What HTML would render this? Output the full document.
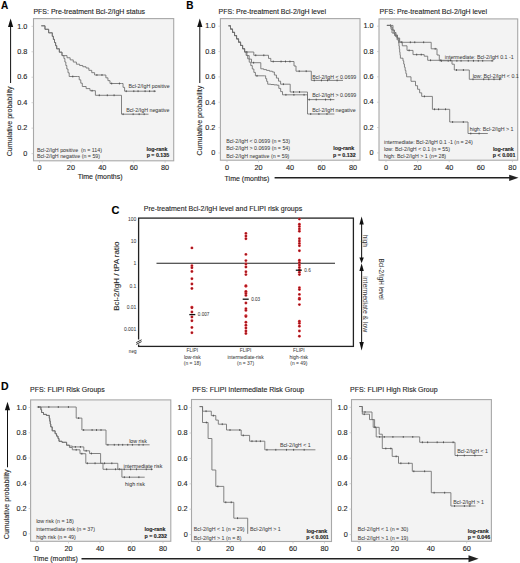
<!DOCTYPE html><html><head><meta charset="utf-8"><style>html,body{margin:0;padding:0;background:#fff;overflow:hidden;width:520px;height:563px;}svg{display:block;}text{font-family:"Liberation Sans",sans-serif;}</style></head><body>
<svg width="520" height="563" viewBox="0 0 520 563">
<rect x="0" y="0" width="520" height="563" fill="#fff"/>
<defs><radialGradient id="dg"><stop offset="0" stop-color="#7a1418"/><stop offset="0.55" stop-color="#b51c24"/><stop offset="1" stop-color="#e03a3f"/></radialGradient></defs>
<text x="1" y="8.8" font-size="10" text-anchor="start" font-weight="bold" fill="#000" stroke="#000" stroke-width="0.12">A</text>
<text x="33.4" y="13.8" font-size="7" text-anchor="start" font-weight="normal" fill="#262626" stroke="#262626" stroke-width="0.12">PFS: Pre-treatment Bcl-2/IgH status</text>
<rect x="33.5" y="18.6" width="140.2" height="142.20000000000002" fill="#f3f3f3" stroke="#a8a8a8" stroke-width="1.1"/>
<text x="27.3" y="28.55" font-size="7.3" text-anchor="end" font-weight="normal" fill="#262626" stroke="#262626" stroke-width="0.12">1.0</text>
<line x1="31.5" y1="26.30" x2="33.5" y2="26.30" stroke="#bbb" stroke-width="0.6"/>
<text x="27.3" y="54.01" font-size="7.3" text-anchor="end" font-weight="normal" fill="#262626" stroke="#262626" stroke-width="0.12">0.8</text>
<line x1="31.5" y1="51.76" x2="33.5" y2="51.76" stroke="#bbb" stroke-width="0.6"/>
<text x="27.3" y="79.47" font-size="7.3" text-anchor="end" font-weight="normal" fill="#262626" stroke="#262626" stroke-width="0.12">0.6</text>
<line x1="31.5" y1="77.22" x2="33.5" y2="77.22" stroke="#bbb" stroke-width="0.6"/>
<text x="27.3" y="104.93" font-size="7.3" text-anchor="end" font-weight="normal" fill="#262626" stroke="#262626" stroke-width="0.12">0.4</text>
<line x1="31.5" y1="102.68" x2="33.5" y2="102.68" stroke="#bbb" stroke-width="0.6"/>
<text x="27.3" y="130.39" font-size="7.3" text-anchor="end" font-weight="normal" fill="#262626" stroke="#262626" stroke-width="0.12">0.2</text>
<line x1="31.5" y1="128.14" x2="33.5" y2="128.14" stroke="#bbb" stroke-width="0.6"/>
<text x="27.3" y="155.85" font-size="7.3" text-anchor="end" font-weight="normal" fill="#262626" stroke="#262626" stroke-width="0.12">0</text>
<line x1="31.5" y1="153.60" x2="33.5" y2="153.60" stroke="#bbb" stroke-width="0.6"/>
<text x="39.5" y="169.89999999999998" font-size="7.3" text-anchor="middle" font-weight="normal" fill="#262626" stroke="#262626" stroke-width="0.12">0</text>
<line x1="39.50" y1="160.8" x2="39.50" y2="162.8" stroke="#bbb" stroke-width="0.6"/>
<text x="70.9" y="169.89999999999998" font-size="7.3" text-anchor="middle" font-weight="normal" fill="#262626" stroke="#262626" stroke-width="0.12">20</text>
<line x1="70.90" y1="160.8" x2="70.90" y2="162.8" stroke="#bbb" stroke-width="0.6"/>
<text x="102.3" y="169.89999999999998" font-size="7.3" text-anchor="middle" font-weight="normal" fill="#262626" stroke="#262626" stroke-width="0.12">40</text>
<line x1="102.30" y1="160.8" x2="102.30" y2="162.8" stroke="#bbb" stroke-width="0.6"/>
<text x="133.7" y="169.89999999999998" font-size="7.3" text-anchor="middle" font-weight="normal" fill="#262626" stroke="#262626" stroke-width="0.12">60</text>
<line x1="133.70" y1="160.8" x2="133.70" y2="162.8" stroke="#bbb" stroke-width="0.6"/>
<text x="165.1" y="169.89999999999998" font-size="7.3" text-anchor="middle" font-weight="normal" fill="#262626" stroke="#262626" stroke-width="0.12">80</text>
<line x1="165.10" y1="160.8" x2="165.10" y2="162.8" stroke="#bbb" stroke-width="0.6"/>
<line x1="10.6" y1="83" x2="10.6" y2="26.0" stroke="#111" stroke-width="1.0"/>
<polygon points="8.0,27.0 13.2,27.0 10.6,18.5" fill="#111"/>
<text x="12.4" y="156.3" font-size="7.1" text-anchor="start" font-weight="normal" fill="#262626" stroke="#262626" stroke-width="0.12" transform="rotate(-90 12.4 156.3)">Cumulative probability</text>
<text x="77.7" y="179.3" font-size="7" text-anchor="start" font-weight="normal" fill="#262626" stroke="#262626" stroke-width="0.12">Time (months)</text>
<text x="36.9" y="151.5" font-size="5.3" text-anchor="start" font-weight="normal" fill="#3e3e3e" stroke="#3e3e3e" stroke-width="0.04">Bcl-2/IgH positive &#160;(n = 114)</text>
<text x="36.9" y="157.7" font-size="5.3" text-anchor="start" font-weight="normal" fill="#3e3e3e" stroke="#3e3e3e" stroke-width="0.04">Bcl-2/IgH negative (n = 59)</text>
<text x="167.5" y="150.9" font-size="5.3" text-anchor="end" font-weight="bold" fill="#222" stroke="#222" stroke-width="0.12">log-rank</text>
<text x="169.2" y="157.3" font-size="5.3" text-anchor="end" font-weight="bold" fill="#222" stroke="#222" stroke-width="0.12">p = 0.135</text>
<text x="128.5" y="88.4" font-size="5.3" text-anchor="start" font-weight="normal" fill="#3e3e3e" stroke="#3e3e3e" stroke-width="0.04">Bcl-2/IgH positive</text>
<text x="126.2" y="111.5" font-size="5.3" text-anchor="start" font-weight="normal" fill="#3e3e3e" stroke="#3e3e3e" stroke-width="0.04">Bcl-2/IgH negative</text>
<path d="M41.30,25.80 L44.97,25.80 L44.97,29.30 L48.63,29.30 L48.63,32.80 L52.30,32.80 L52.30,36.30 L53.40,36.30 L53.40,39.42 L54.50,39.42 L54.50,42.55 L55.60,42.55 L55.60,45.67 L56.70,45.67 L56.70,48.80 L59.35,48.80 L59.35,52.20 L62.00,52.20 L62.00,55.60 L63.90,55.60 L67.03,55.60 L67.03,57.75 L70.15,57.75 L70.15,59.90 L73.28,59.90 L73.28,62.05 L76.40,62.05 L76.40,64.20 L79.60,64.20 L79.60,65.47 L82.80,65.47 L82.80,66.73 L86.00,66.73 L86.00,68.00 L88.87,68.00 L88.87,70.33 L91.73,70.33 L91.73,72.67 L94.60,72.67 L94.60,75.00 L103.80,75.00 L105.87,75.00 L105.87,77.83 L107.93,77.83 L107.93,80.67 L110.00,80.67 L110.00,83.50 L121.50,83.50 L123.05,83.50 L123.05,87.35 L124.60,87.35 L124.60,91.20 L156.00,91.20" fill="none" stroke="#6e6e6e" stroke-width="0.85"/>
<path d="M96.91,74.10 v1.8 M101.97,74.10 v1.8 M111.68,82.60 v1.8 M119.43,82.60 v1.8 M126.24,90.30 v1.8 M133.80,90.30 v1.8 M138.06,90.30 v1.8 M145.10,90.30 v1.8 M149.58,90.30 v1.8 M154.22,90.30 v1.8" stroke="#484848" stroke-width="0.9" fill="none"/>
<path d="M41.30,25.80 L44.97,25.80 L44.97,29.30 L48.63,29.30 L48.63,32.80 L52.30,32.80 L52.30,36.30 L53.40,36.30 L53.40,39.42 L54.50,39.42 L54.50,42.55 L55.60,42.55 L55.60,45.67 L56.70,45.67 L56.70,48.80 L59.35,48.80 L59.35,52.20 L62.00,52.20 L62.00,55.60 L63.90,55.60 L63.90,58.50 L64.87,58.50 L64.87,62.00 L65.83,62.00 L65.83,65.50 L66.80,65.50 L66.80,69.00 L68.00,69.00 L68.00,72.75 L69.20,72.75 L69.20,76.50 L77.70,76.50 L79.23,76.50 L79.23,79.83 L80.77,79.83 L80.77,83.17 L82.30,83.17 L82.30,86.50 L86.15,86.50 L86.15,88.60 L90.00,88.60 L90.00,90.70 L95.40,90.70 L95.40,95.30 L121.50,95.30 L121.50,114.20 L148.50,114.20" fill="none" stroke="#6e6e6e" stroke-width="0.85"/>
<path d="M72.77,75.60 v1.8 M92.06,89.80 v1.8 M99.27,94.40 v1.8 M107.31,94.40 v1.8 M114.09,94.40 v1.8 M123.12,113.30 v1.8 M133.13,113.30 v1.8 M139.15,113.30 v1.8 M144.16,113.30 v1.8" stroke="#484848" stroke-width="0.9" fill="none"/>
<text x="186.2" y="8.8" font-size="10" text-anchor="start" font-weight="bold" fill="#000" stroke="#000" stroke-width="0.12">B</text>
<text x="218.6" y="13.8" font-size="7" text-anchor="start" font-weight="normal" fill="#262626" stroke="#262626" stroke-width="0.12">PFS: Pre-treatment Bcl-2/IgH level</text>
<rect x="220.4" y="18.6" width="139.6" height="141.6" fill="#f3f3f3" stroke="#a8a8a8" stroke-width="1.1"/>
<text x="215.4" y="28.45" font-size="7.3" text-anchor="end" font-weight="normal" fill="#262626" stroke="#262626" stroke-width="0.12">1.0</text>
<line x1="218.4" y1="26.20" x2="220.4" y2="26.20" stroke="#bbb" stroke-width="0.6"/>
<text x="215.4" y="53.81" font-size="7.3" text-anchor="end" font-weight="normal" fill="#262626" stroke="#262626" stroke-width="0.12">0.8</text>
<line x1="218.4" y1="51.56" x2="220.4" y2="51.56" stroke="#bbb" stroke-width="0.6"/>
<text x="215.4" y="79.17" font-size="7.3" text-anchor="end" font-weight="normal" fill="#262626" stroke="#262626" stroke-width="0.12">0.6</text>
<line x1="218.4" y1="76.92" x2="220.4" y2="76.92" stroke="#bbb" stroke-width="0.6"/>
<text x="215.4" y="104.53" font-size="7.3" text-anchor="end" font-weight="normal" fill="#262626" stroke="#262626" stroke-width="0.12">0.4</text>
<line x1="218.4" y1="102.28" x2="220.4" y2="102.28" stroke="#bbb" stroke-width="0.6"/>
<text x="215.4" y="129.89" font-size="7.3" text-anchor="end" font-weight="normal" fill="#262626" stroke="#262626" stroke-width="0.12">0.2</text>
<line x1="218.4" y1="127.64" x2="220.4" y2="127.64" stroke="#bbb" stroke-width="0.6"/>
<text x="215.4" y="155.25" font-size="7.3" text-anchor="end" font-weight="normal" fill="#262626" stroke="#262626" stroke-width="0.12">0</text>
<line x1="218.4" y1="153.00" x2="220.4" y2="153.00" stroke="#bbb" stroke-width="0.6"/>
<text x="227.0" y="169.89999999999998" font-size="7.3" text-anchor="middle" font-weight="normal" fill="#262626" stroke="#262626" stroke-width="0.12">0</text>
<line x1="227.00" y1="160.2" x2="227.00" y2="162.2" stroke="#bbb" stroke-width="0.6"/>
<text x="258.5" y="169.89999999999998" font-size="7.3" text-anchor="middle" font-weight="normal" fill="#262626" stroke="#262626" stroke-width="0.12">20</text>
<line x1="258.50" y1="160.2" x2="258.50" y2="162.2" stroke="#bbb" stroke-width="0.6"/>
<text x="290.0" y="169.89999999999998" font-size="7.3" text-anchor="middle" font-weight="normal" fill="#262626" stroke="#262626" stroke-width="0.12">40</text>
<line x1="290.00" y1="160.2" x2="290.00" y2="162.2" stroke="#bbb" stroke-width="0.6"/>
<text x="321.5" y="169.89999999999998" font-size="7.3" text-anchor="middle" font-weight="normal" fill="#262626" stroke="#262626" stroke-width="0.12">60</text>
<line x1="321.50" y1="160.2" x2="321.50" y2="162.2" stroke="#bbb" stroke-width="0.6"/>
<text x="353.0" y="169.89999999999998" font-size="7.3" text-anchor="middle" font-weight="normal" fill="#262626" stroke="#262626" stroke-width="0.12">80</text>
<line x1="353.00" y1="160.2" x2="353.00" y2="162.2" stroke="#bbb" stroke-width="0.6"/>
<line x1="199.8" y1="83" x2="199.8" y2="26.0" stroke="#111" stroke-width="1.0"/>
<polygon points="197.20000000000002,27.0 202.4,27.0 199.8,18.5" fill="#111"/>
<text x="201.6" y="155.4" font-size="7.1" text-anchor="start" font-weight="normal" fill="#262626" stroke="#262626" stroke-width="0.12" transform="rotate(-90 201.6 155.4)">Cumulative probability</text>
<text x="224.6" y="180.5" font-size="7" text-anchor="start" font-weight="normal" fill="#262626" stroke="#262626" stroke-width="0.12">Time (months)</text>
<line x1="274.6" y1="177.8" x2="510.2" y2="177.8" stroke="#222" stroke-width="1.4"/>
<polygon points="509.2,174.70000000000002 509.2,180.9 518.5,177.8" fill="#222"/>
<text x="226.2" y="143.4" font-size="5.3" text-anchor="start" font-weight="normal" fill="#3e3e3e" stroke="#3e3e3e" stroke-width="0.04">Bcl-2/IgH &lt; 0.0699 (n = 53)</text>
<text x="226.2" y="150.4" font-size="5.3" text-anchor="start" font-weight="normal" fill="#3e3e3e" stroke="#3e3e3e" stroke-width="0.04">Bcl-2/IgH &gt; 0.0699 (n = 54)</text>
<text x="226.2" y="157.7" font-size="5.3" text-anchor="start" font-weight="normal" fill="#3e3e3e" stroke="#3e3e3e" stroke-width="0.04">Bcl-2/IgH negative (n = 59)</text>
<text x="354.2" y="150.4" font-size="5.3" text-anchor="end" font-weight="bold" fill="#222" stroke="#222" stroke-width="0.12">log-rank</text>
<text x="355.6" y="157.4" font-size="5.3" text-anchor="end" font-weight="bold" fill="#222" stroke="#222" stroke-width="0.12">p = 0.132</text>
<text x="312.3" y="79.0" font-size="5.3" text-anchor="start" font-weight="normal" fill="#3e3e3e" stroke="#3e3e3e" stroke-width="0.04">Bcl-2/IgH &lt; 0.0699</text>
<text x="312.3" y="97.3" font-size="5.3" text-anchor="start" font-weight="normal" fill="#3e3e3e" stroke="#3e3e3e" stroke-width="0.04">Bcl-2/IgH &gt; 0.0699</text>
<text x="312.3" y="111.5" font-size="5.3" text-anchor="start" font-weight="normal" fill="#3e3e3e" stroke="#3e3e3e" stroke-width="0.04">Bcl-2/IgH negative</text>
<path d="M228.50,25.80 L230.51,25.80 L230.51,29.07 L232.53,29.07 L232.53,32.35 L234.54,32.35 L234.54,35.62 L236.55,35.62 L236.55,38.90 L238.56,38.90 L238.56,42.17 L240.57,42.17 L240.57,45.45 L242.59,45.45 L242.59,48.73 L244.60,48.73 L244.60,52.00 L253.80,52.00 L253.80,55.30 L266.20,55.30 L268.50,55.30 L268.50,58.40 L270.80,58.40 L270.80,61.50 L294.00,61.50 L294.00,66.00 L296.00,66.00 L296.00,71.20 L311.30,71.20 L311.30,80.40 L343.00,80.40" fill="none" stroke="#6e6e6e" stroke-width="0.85"/>
<path d="M246.87,51.10 v1.8 M255.75,54.40 v1.8 M263.82,54.40 v1.8 M273.23,60.60 v1.8 M281.07,60.60 v1.8 M285.50,60.60 v1.8 M289.92,60.60 v1.8 M299.20,70.30 v1.8 M306.19,70.30 v1.8 M314.26,79.50 v1.8 M321.44,79.50 v1.8 M327.53,79.50 v1.8 M337.10,79.50 v1.8" stroke="#484848" stroke-width="0.9" fill="none"/>
<path d="M228.50,25.80 L230.51,25.80 L230.51,29.07 L232.53,29.07 L232.53,32.35 L234.54,32.35 L234.54,35.62 L236.55,35.62 L236.55,38.90 L238.56,38.90 L238.56,42.17 L240.57,42.17 L240.57,45.45 L242.59,45.45 L242.59,48.73 L244.60,48.73 L244.60,52.00 L246.90,52.00 L246.90,55.57 L249.20,55.57 L249.20,59.13 L251.50,59.13 L251.50,62.70 L260.80,62.70 L260.80,68.80 L263.68,68.80 L263.68,69.60 L266.55,69.60 L266.55,70.40 L269.43,70.40 L269.43,71.20 L272.30,71.20 L272.30,72.00 L274.38,72.00 L274.38,75.05 L276.45,75.05 L276.45,78.10 L278.53,78.10 L278.53,81.15 L280.60,81.15 L280.60,84.20 L290.20,84.20 L290.20,92.00 L307.50,92.00 L307.50,99.60 L334.40,99.60" fill="none" stroke="#6e6e6e" stroke-width="0.85"/>
<path d="M253.61,61.80 v1.8 M283.41,83.30 v1.8 M293.52,91.10 v1.8 M299.54,91.10 v1.8 M309.30,98.70 v1.8 M316.22,98.70 v1.8 M325.52,98.70 v1.8 M330.59,98.70 v1.8" stroke="#484848" stroke-width="0.9" fill="none"/>
<path d="M228.50,25.80 L230.51,25.80 L230.51,29.07 L232.53,29.07 L232.53,32.35 L234.54,32.35 L234.54,35.62 L236.55,35.62 L236.55,38.90 L238.56,38.90 L238.56,42.17 L240.57,42.17 L240.57,45.45 L242.59,45.45 L242.59,48.73 L244.60,48.73 L244.60,52.00 L246.14,52.00 L246.14,55.40 L247.69,55.40 L247.69,58.80 L249.23,58.80 L249.23,62.20 L250.77,62.20 L250.77,65.60 L252.31,65.60 L252.31,69.00 L253.86,69.00 L253.86,72.40 L255.40,72.40 L255.40,75.80 L264.60,75.80 L265.63,75.80 L265.63,78.60 L266.67,78.60 L266.67,81.40 L267.70,81.40 L267.70,84.20 L270.80,84.20 L270.80,84.53 L273.90,84.53 L273.90,84.87 L277.00,84.87 L277.00,85.20 L278.83,85.20 L278.83,88.40 L280.67,88.40 L280.67,91.60 L282.50,91.60 L282.50,94.80 L307.50,94.80 L307.50,114.00 L334.40,114.00" fill="none" stroke="#6e6e6e" stroke-width="0.85"/>
<path d="M257.00,74.90 v1.8 M285.91,93.90 v1.8 M293.92,93.90 v1.8 M304.05,93.90 v1.8 M310.74,113.10 v1.8 M318.90,113.10 v1.8 M326.96,113.10 v1.8" stroke="#484848" stroke-width="0.9" fill="none"/>
<text x="379.6" y="13.8" font-size="7" text-anchor="start" font-weight="normal" fill="#262626" stroke="#262626" stroke-width="0.12">PFS: Pre-treatment Bcl-2/IgH level</text>
<rect x="379.0" y="18.9" width="138.70000000000005" height="141.29999999999998" fill="#f3f3f3" stroke="#a8a8a8" stroke-width="1.1"/>
<text x="373.6" y="28.45" font-size="7.3" text-anchor="end" font-weight="normal" fill="#262626" stroke="#262626" stroke-width="0.12">1.0</text>
<line x1="377.0" y1="26.20" x2="379.0" y2="26.20" stroke="#bbb" stroke-width="0.6"/>
<text x="373.6" y="53.79" font-size="7.3" text-anchor="end" font-weight="normal" fill="#262626" stroke="#262626" stroke-width="0.12">0.8</text>
<line x1="377.0" y1="51.54" x2="379.0" y2="51.54" stroke="#bbb" stroke-width="0.6"/>
<text x="373.6" y="79.13" font-size="7.3" text-anchor="end" font-weight="normal" fill="#262626" stroke="#262626" stroke-width="0.12">0.6</text>
<line x1="377.0" y1="76.88" x2="379.0" y2="76.88" stroke="#bbb" stroke-width="0.6"/>
<text x="373.6" y="104.47" font-size="7.3" text-anchor="end" font-weight="normal" fill="#262626" stroke="#262626" stroke-width="0.12">0.4</text>
<line x1="377.0" y1="102.22" x2="379.0" y2="102.22" stroke="#bbb" stroke-width="0.6"/>
<text x="373.6" y="129.81" font-size="7.3" text-anchor="end" font-weight="normal" fill="#262626" stroke="#262626" stroke-width="0.12">0.2</text>
<line x1="377.0" y1="127.56" x2="379.0" y2="127.56" stroke="#bbb" stroke-width="0.6"/>
<text x="373.6" y="155.15" font-size="7.3" text-anchor="end" font-weight="normal" fill="#262626" stroke="#262626" stroke-width="0.12">0</text>
<line x1="377.0" y1="152.90" x2="379.0" y2="152.90" stroke="#bbb" stroke-width="0.6"/>
<text x="386.0" y="169.89999999999998" font-size="7.3" text-anchor="middle" font-weight="normal" fill="#262626" stroke="#262626" stroke-width="0.12">0</text>
<line x1="386.00" y1="160.2" x2="386.00" y2="162.2" stroke="#bbb" stroke-width="0.6"/>
<text x="417.6" y="169.89999999999998" font-size="7.3" text-anchor="middle" font-weight="normal" fill="#262626" stroke="#262626" stroke-width="0.12">20</text>
<line x1="417.60" y1="160.2" x2="417.60" y2="162.2" stroke="#bbb" stroke-width="0.6"/>
<text x="449.2" y="169.89999999999998" font-size="7.3" text-anchor="middle" font-weight="normal" fill="#262626" stroke="#262626" stroke-width="0.12">40</text>
<line x1="449.20" y1="160.2" x2="449.20" y2="162.2" stroke="#bbb" stroke-width="0.6"/>
<text x="480.8" y="169.89999999999998" font-size="7.3" text-anchor="middle" font-weight="normal" fill="#262626" stroke="#262626" stroke-width="0.12">60</text>
<line x1="480.80" y1="160.2" x2="480.80" y2="162.2" stroke="#bbb" stroke-width="0.6"/>
<text x="512.4" y="169.89999999999998" font-size="7.3" text-anchor="middle" font-weight="normal" fill="#262626" stroke="#262626" stroke-width="0.12">80</text>
<line x1="512.40" y1="160.2" x2="512.40" y2="162.2" stroke="#bbb" stroke-width="0.6"/>
<text x="384.0" y="143.9" font-size="5.3" text-anchor="start" font-weight="normal" fill="#3e3e3e" stroke="#3e3e3e" stroke-width="0.04">intermediate: Bcl-2/IgH 0.1 -1 (n = 24)</text>
<text x="384.0" y="150.9" font-size="5.3" text-anchor="start" font-weight="normal" fill="#3e3e3e" stroke="#3e3e3e" stroke-width="0.04">low: Bcl-2/IgH &lt; 0.1 (n = 55)</text>
<text x="384.0" y="158.2" font-size="5.3" text-anchor="start" font-weight="normal" fill="#3e3e3e" stroke="#3e3e3e" stroke-width="0.04">high: Bcl-2/IgH &gt; 1 (n= 28)</text>
<text x="513.8" y="151.1" font-size="5.3" text-anchor="end" font-weight="bold" fill="#222" stroke="#222" stroke-width="0.12">log-rank</text>
<text x="515.4" y="157.3" font-size="5.3" text-anchor="end" font-weight="bold" fill="#222" stroke="#222" stroke-width="0.12">p &lt; 0.001</text>
<text x="444.8" y="58.5" font-size="5.3" text-anchor="start" font-weight="normal" fill="#3e3e3e" stroke="#3e3e3e" stroke-width="0.04">intermediate: Bcl-2/IgH 0.1 -1</text>
<text x="472.7" y="77.7" font-size="5.3" text-anchor="start" font-weight="normal" fill="#3e3e3e" stroke="#3e3e3e" stroke-width="0.04">low: Bcl-2/IgH &lt; 0.1</text>
<text x="469.8" y="130.9" font-size="5.3" text-anchor="start" font-weight="normal" fill="#3e3e3e" stroke="#3e3e3e" stroke-width="0.04">high: Bcl-2/IgH &gt; 1</text>
<path d="M386.90,25.40 L393.00,25.40 L393.00,30.00 L394.50,30.00 L394.50,32.50 L396.00,32.50 L396.00,35.00 L397.50,35.00 L397.50,38.65 L399.00,38.65 L399.00,42.30 L431.20,42.30 L431.20,48.80 L437.00,48.80 L437.00,55.00 L439.30,55.00 L439.30,60.80 L493.50,60.80" fill="none" stroke="#6e6e6e" stroke-width="0.85"/>
<path d="M390.50,24.50 v1.8 M401.69,41.40 v1.8 M410.33,41.40 v1.8 M414.76,41.40 v1.8 M423.67,41.40 v1.8 M435.18,47.90 v1.8 M441.51,59.90 v1.8 M448.21,59.90 v1.8 M456.89,59.90 v1.8 M461.05,59.90 v1.8 M468.28,59.90 v1.8 M473.46,59.90 v1.8 M478.28,59.90 v1.8 M482.69,59.90 v1.8 M492.07,59.90 v1.8" stroke="#484848" stroke-width="0.9" fill="none"/>
<path d="M386.90,25.40 L390.00,25.40 L391.00,25.40 L391.00,29.20 L392.00,29.20 L392.00,33.00 L394.50,33.00 L394.50,35.50 L397.00,35.50 L397.00,38.00 L399.65,38.00 L399.65,41.90 L402.30,41.90 L402.30,45.80 L407.00,45.80 L407.00,50.40 L413.00,50.40 L413.00,54.60 L424.20,54.60 L424.20,56.20 L427.70,56.20 L427.70,60.30 L452.00,60.30 L452.00,64.20 L454.30,64.20 L454.30,70.00 L469.30,70.00 L469.30,79.30 L501.60,79.30" fill="none" stroke="#6e6e6e" stroke-width="0.85"/>
<path d="M409.12,49.50 v1.8 M416.68,53.70 v1.8 M421.24,53.70 v1.8 M430.57,59.40 v1.8 M440.76,59.40 v1.8 M450.49,59.40 v1.8 M456.50,69.10 v1.8 M463.40,69.10 v1.8 M473.01,78.40 v1.8 M483.71,78.40 v1.8 M488.77,78.40 v1.8 M494.00,78.40 v1.8 M499.63,78.40 v1.8" stroke="#484848" stroke-width="0.9" fill="none"/>
<path d="M386.90,25.40 L390.70,25.40 L390.70,27.00 L392.28,27.00 L392.28,30.20 L393.86,30.20 L393.86,33.40 L395.44,33.40 L395.44,36.60 L397.02,36.60 L397.02,39.80 L398.60,39.80 L398.60,43.00 L398.96,43.00 L398.96,46.04 L399.32,46.04 L399.32,49.08 L399.68,49.08 L399.68,52.12 L400.04,52.12 L400.04,55.16 L400.40,55.16 L400.40,58.20 L403.00,58.20 L403.00,60.90 L403.72,60.90 L403.72,64.08 L404.44,64.08 L404.44,67.26 L405.16,67.26 L405.16,70.44 L405.88,70.44 L405.88,73.62 L406.60,73.62 L406.60,76.80 L411.00,76.80 L411.00,81.30 L415.50,81.30 L415.50,85.70 L417.57,85.70 L417.57,89.27 L419.63,89.27 L419.63,92.83 L421.70,92.83 L421.70,96.40 L432.40,96.40 L432.40,109.30 L449.70,109.30 L449.70,122.00 L468.00,122.00 L468.00,133.50 L487.80,133.50" fill="none" stroke="#6e6e6e" stroke-width="0.85"/>
<path d="M424.41,95.50 v1.8 M434.56,108.40 v1.8 M438.59,108.40 v1.8 M445.52,108.40 v1.8 M452.62,121.10 v1.8 M463.29,121.10 v1.8 M470.79,132.60 v1.8 M479.11,132.60 v1.8" stroke="#484848" stroke-width="0.9" fill="none"/>
<text x="111.4" y="213.9" font-size="11" text-anchor="start" font-weight="bold" fill="#000" stroke="#000" stroke-width="0.12">C</text>
<text x="143.8" y="210.9" font-size="7" text-anchor="start" font-weight="normal" fill="#262626" stroke="#262626" stroke-width="0.12">Pre-treatment Bcl-2/IgH level and FLIPI risk groups</text>
<rect x="138.6" y="218.1" width="214.8" height="128.3" fill="none" stroke="#222" stroke-width="1.3"/>
<text x="136.4" y="221.1" font-size="5.0" text-anchor="end" font-weight="normal" fill="#3e3e3e" stroke="#3e3e3e" stroke-width="0.04">100</text>
<text x="136.4" y="243.29999999999998" font-size="5.0" text-anchor="end" font-weight="normal" fill="#3e3e3e" stroke="#3e3e3e" stroke-width="0.04">10</text>
<text x="136.4" y="265.40000000000003" font-size="5.0" text-anchor="end" font-weight="normal" fill="#3e3e3e" stroke="#3e3e3e" stroke-width="0.04">1</text>
<text x="136.4" y="287.5" font-size="5.0" text-anchor="end" font-weight="normal" fill="#3e3e3e" stroke="#3e3e3e" stroke-width="0.04">0.1</text>
<text x="136.4" y="309.0" font-size="5.0" text-anchor="end" font-weight="normal" fill="#3e3e3e" stroke="#3e3e3e" stroke-width="0.04">0.01</text>
<text x="136.4" y="330.6" font-size="5.0" text-anchor="end" font-weight="normal" fill="#3e3e3e" stroke="#3e3e3e" stroke-width="0.04">0.001</text>
<text x="132.7" y="352.8" font-size="4.6" text-anchor="middle" font-weight="normal" fill="#3e3e3e" stroke="#3e3e3e" stroke-width="0.04">neg</text>
<text x="119.0" y="310.8" font-size="8" text-anchor="start" font-weight="normal" fill="#262626" stroke="#262626" stroke-width="0.12" transform="rotate(-90 119.0 310.8)">Bcl-2/IgH / tPA ratio</text>
<line x1="156.5" y1="263.3" x2="335" y2="263.3" stroke="#222" stroke-width="1.1"/>
<rect x="136" y="339.5" width="5" height="5" fill="#fff"/>
<path d="M136.2,342.6 L141.6,339.8 M136.2,344.4 L141.6,341.6" stroke="#222" stroke-width="0.9"/>
<text x="192.3" y="352.0" font-size="4.9" text-anchor="middle" font-weight="normal" fill="#3e3e3e" stroke="#3e3e3e" stroke-width="0.04">FLIPI</text>
<text x="192.3" y="358.7" font-size="4.9" text-anchor="middle" font-weight="normal" fill="#3e3e3e" stroke="#3e3e3e" stroke-width="0.04">low-risk</text>
<text x="192.3" y="365.4" font-size="4.9" text-anchor="middle" font-weight="normal" fill="#3e3e3e" stroke="#3e3e3e" stroke-width="0.04">(n = 18)</text>
<text x="245.6" y="352.0" font-size="4.9" text-anchor="middle" font-weight="normal" fill="#3e3e3e" stroke="#3e3e3e" stroke-width="0.04">FLIPI</text>
<text x="245.6" y="358.7" font-size="4.9" text-anchor="middle" font-weight="normal" fill="#3e3e3e" stroke="#3e3e3e" stroke-width="0.04">intermediate-risk</text>
<text x="245.6" y="365.4" font-size="4.9" text-anchor="middle" font-weight="normal" fill="#3e3e3e" stroke="#3e3e3e" stroke-width="0.04">(n = 37)</text>
<text x="298.8" y="352.0" font-size="4.9" text-anchor="middle" font-weight="normal" fill="#3e3e3e" stroke="#3e3e3e" stroke-width="0.04">FLIPI</text>
<text x="298.8" y="358.7" font-size="4.9" text-anchor="middle" font-weight="normal" fill="#3e3e3e" stroke="#3e3e3e" stroke-width="0.04">high-risk</text>
<text x="298.8" y="365.4" font-size="4.9" text-anchor="middle" font-weight="normal" fill="#3e3e3e" stroke="#3e3e3e" stroke-width="0.04">(n = 49)</text>
<circle cx="191.9" cy="247.9" r="1.45" fill="url(#dg)"/>
<circle cx="191.9" cy="265.8" r="1.45" fill="url(#dg)"/>
<circle cx="191.9" cy="267.7" r="1.45" fill="url(#dg)"/>
<circle cx="191.9" cy="271.5" r="1.45" fill="url(#dg)"/>
<circle cx="191.9" cy="278.7" r="1.45" fill="url(#dg)"/>
<circle cx="191.9" cy="284" r="1.45" fill="url(#dg)"/>
<circle cx="191.9" cy="288.5" r="1.45" fill="url(#dg)"/>
<circle cx="191.9" cy="307.1" r="1.45" fill="url(#dg)"/>
<circle cx="191.9" cy="307.7" r="1.45" fill="url(#dg)"/>
<circle cx="191.9" cy="312" r="1.45" fill="url(#dg)"/>
<circle cx="191.9" cy="317" r="1.45" fill="url(#dg)"/>
<circle cx="191.9" cy="320.8" r="1.45" fill="url(#dg)"/>
<circle cx="191.9" cy="327.5" r="1.45" fill="url(#dg)"/>
<circle cx="191.9" cy="332.7" r="1.45" fill="url(#dg)"/>
<circle cx="245.9" cy="233.4" r="1.45" fill="url(#dg)"/>
<circle cx="245.9" cy="236.1" r="1.45" fill="url(#dg)"/>
<circle cx="245.9" cy="238.7" r="1.45" fill="url(#dg)"/>
<circle cx="245.9" cy="254.4" r="1.45" fill="url(#dg)"/>
<circle cx="245.9" cy="260.6" r="1.45" fill="url(#dg)"/>
<circle cx="245.9" cy="264" r="1.45" fill="url(#dg)"/>
<circle cx="245.9" cy="267" r="1.45" fill="url(#dg)"/>
<circle cx="245.9" cy="271.7" r="1.45" fill="url(#dg)"/>
<circle cx="245.9" cy="274.6" r="1.45" fill="url(#dg)"/>
<circle cx="245.9" cy="286.2" r="1.45" fill="url(#dg)"/>
<circle cx="245.9" cy="292" r="1.45" fill="url(#dg)"/>
<circle cx="245.9" cy="285.8" r="1.45" fill="url(#dg)"/>
<circle cx="245.9" cy="291.5" r="1.45" fill="url(#dg)"/>
<circle cx="245.9" cy="293.5" r="1.45" fill="url(#dg)"/>
<circle cx="245.9" cy="295.4" r="1.45" fill="url(#dg)"/>
<circle cx="245.9" cy="303" r="1.45" fill="url(#dg)"/>
<circle cx="245.9" cy="308.8" r="1.45" fill="url(#dg)"/>
<circle cx="245.9" cy="310.4" r="1.45" fill="url(#dg)"/>
<circle cx="245.9" cy="315.6" r="1.45" fill="url(#dg)"/>
<circle cx="245.9" cy="316.5" r="1.45" fill="url(#dg)"/>
<circle cx="245.9" cy="322.3" r="1.45" fill="url(#dg)"/>
<circle cx="245.9" cy="325.2" r="1.45" fill="url(#dg)"/>
<circle cx="245.9" cy="328" r="1.45" fill="url(#dg)"/>
<circle cx="245.9" cy="331" r="1.45" fill="url(#dg)"/>
<circle cx="245.9" cy="333.5" r="1.45" fill="url(#dg)"/>
<circle cx="299.4" cy="219.1" r="1.45" fill="url(#dg)"/>
<circle cx="299.4" cy="224.2" r="1.45" fill="url(#dg)"/>
<circle cx="299.4" cy="226.5" r="1.45" fill="url(#dg)"/>
<circle cx="299.4" cy="228.9" r="1.45" fill="url(#dg)"/>
<circle cx="299.4" cy="231.3" r="1.45" fill="url(#dg)"/>
<circle cx="299.4" cy="238.7" r="1.45" fill="url(#dg)"/>
<circle cx="299.4" cy="241.1" r="1.45" fill="url(#dg)"/>
<circle cx="299.4" cy="243.4" r="1.45" fill="url(#dg)"/>
<circle cx="299.4" cy="245.8" r="1.45" fill="url(#dg)"/>
<circle cx="299.4" cy="250.7" r="1.45" fill="url(#dg)"/>
<circle cx="299.4" cy="260.2" r="1.45" fill="url(#dg)"/>
<circle cx="299.4" cy="262.5" r="1.45" fill="url(#dg)"/>
<circle cx="299.4" cy="265" r="1.45" fill="url(#dg)"/>
<circle cx="299.4" cy="267.5" r="1.45" fill="url(#dg)"/>
<circle cx="299.4" cy="270" r="1.45" fill="url(#dg)"/>
<circle cx="299.4" cy="272.3" r="1.45" fill="url(#dg)"/>
<circle cx="299.4" cy="274.6" r="1.45" fill="url(#dg)"/>
<circle cx="299.4" cy="287.7" r="1.45" fill="url(#dg)"/>
<circle cx="299.4" cy="289.6" r="1.45" fill="url(#dg)"/>
<circle cx="299.4" cy="294.4" r="1.45" fill="url(#dg)"/>
<circle cx="299.4" cy="298.3" r="1.45" fill="url(#dg)"/>
<circle cx="299.4" cy="299.2" r="1.45" fill="url(#dg)"/>
<circle cx="299.4" cy="304.6" r="1.45" fill="url(#dg)"/>
<circle cx="299.4" cy="321.3" r="1.45" fill="url(#dg)"/>
<circle cx="299.4" cy="323.3" r="1.45" fill="url(#dg)"/>
<circle cx="299.4" cy="326.2" r="1.45" fill="url(#dg)"/>
<circle cx="299.4" cy="331" r="1.45" fill="url(#dg)"/>
<circle cx="299.4" cy="336.2" r="1.45" fill="url(#dg)"/>
<line x1="189.3" y1="314.6" x2="195.3" y2="314.6" stroke="#111" stroke-width="1.3"/>
<text x="197.8" y="316.20000000000005" font-size="4.6" text-anchor="start" font-weight="normal" fill="#3e3e3e" stroke="#3e3e3e" stroke-width="0.04">0.007</text>
<line x1="242.7" y1="299.2" x2="248.7" y2="299.2" stroke="#111" stroke-width="1.3"/>
<text x="251.2" y="300.8" font-size="4.6" text-anchor="start" font-weight="normal" fill="#3e3e3e" stroke="#3e3e3e" stroke-width="0.04">0.03</text>
<line x1="295.8" y1="270.2" x2="301.8" y2="270.2" stroke="#111" stroke-width="1.3"/>
<text x="304.3" y="271.8" font-size="4.6" text-anchor="start" font-weight="normal" fill="#3e3e3e" stroke="#3e3e3e" stroke-width="0.04">0.6</text>
<line x1="361.6" y1="222" x2="361.6" y2="260" stroke="#222" stroke-width="1.1"/>
<line x1="361.6" y1="266" x2="361.6" y2="345" stroke="#222" stroke-width="1.1"/>
<polygon points="359.40000000000003,224.6 363.8,224.6 361.6,216.4" fill="#111"/>
<polygon points="359.40000000000003,257.6 363.8,257.6 361.6,263.3" fill="#111"/>
<polygon points="359.40000000000003,271.1 363.8,271.1 361.6,263.3" fill="#111"/>
<polygon points="359.40000000000003,341.9 363.8,341.9 361.6,350.4" fill="#111"/>
<text x="363.3" y="240.8" font-size="6.4" text-anchor="middle" font-weight="normal" fill="#404040" stroke="#404040" stroke-width="0.03" transform="rotate(90 363.3 240.8)">high</text>
<text x="363.3" y="304.3" font-size="6.8" text-anchor="middle" font-weight="normal" fill="#404040" stroke="#404040" stroke-width="0.03" transform="rotate(90 363.3 304.3)">intermediate &amp; low</text>
<text x="379.0" y="279.2" font-size="6.4" text-anchor="middle" font-weight="normal" fill="#333" stroke="#333" stroke-width="0.06" transform="rotate(90 379.0 279.2)">Bcl-2/IgH level</text>
<text x="1" y="390.3" font-size="10.5" text-anchor="start" font-weight="bold" fill="#000" stroke="#000" stroke-width="0.12">D</text>
<text x="30.0" y="392.1" font-size="7" text-anchor="start" font-weight="normal" fill="#262626" stroke="#262626" stroke-width="0.12">PFS: FLIPI Risk Groups</text>
<rect x="30.6" y="399.9" width="140.20000000000002" height="141.39999999999998" fill="#f3f3f3" stroke="#a8a8a8" stroke-width="1.1"/>
<text x="26.7" y="409.75" font-size="7.3" text-anchor="end" font-weight="normal" fill="#262626" stroke="#262626" stroke-width="0.12">1.0</text>
<line x1="28.6" y1="407.50" x2="30.6" y2="407.50" stroke="#bbb" stroke-width="0.6"/>
<text x="26.7" y="435.01" font-size="7.3" text-anchor="end" font-weight="normal" fill="#262626" stroke="#262626" stroke-width="0.12">0.8</text>
<line x1="28.6" y1="432.76" x2="30.6" y2="432.76" stroke="#bbb" stroke-width="0.6"/>
<text x="26.7" y="460.27" font-size="7.3" text-anchor="end" font-weight="normal" fill="#262626" stroke="#262626" stroke-width="0.12">0.6</text>
<line x1="28.6" y1="458.02" x2="30.6" y2="458.02" stroke="#bbb" stroke-width="0.6"/>
<text x="26.7" y="485.53" font-size="7.3" text-anchor="end" font-weight="normal" fill="#262626" stroke="#262626" stroke-width="0.12">0.4</text>
<line x1="28.6" y1="483.28" x2="30.6" y2="483.28" stroke="#bbb" stroke-width="0.6"/>
<text x="26.7" y="510.79" font-size="7.3" text-anchor="end" font-weight="normal" fill="#262626" stroke="#262626" stroke-width="0.12">0.2</text>
<line x1="28.6" y1="508.54" x2="30.6" y2="508.54" stroke="#bbb" stroke-width="0.6"/>
<text x="26.7" y="536.05" font-size="7.3" text-anchor="end" font-weight="normal" fill="#262626" stroke="#262626" stroke-width="0.12">0</text>
<line x1="28.6" y1="533.80" x2="30.6" y2="533.80" stroke="#bbb" stroke-width="0.6"/>
<text x="37.0" y="551.0" font-size="7.3" text-anchor="middle" font-weight="normal" fill="#262626" stroke="#262626" stroke-width="0.12">0</text>
<line x1="37.00" y1="541.3" x2="37.00" y2="543.3" stroke="#bbb" stroke-width="0.6"/>
<text x="68.5" y="551.0" font-size="7.3" text-anchor="middle" font-weight="normal" fill="#262626" stroke="#262626" stroke-width="0.12">20</text>
<line x1="68.50" y1="541.3" x2="68.50" y2="543.3" stroke="#bbb" stroke-width="0.6"/>
<text x="100.0" y="551.0" font-size="7.3" text-anchor="middle" font-weight="normal" fill="#262626" stroke="#262626" stroke-width="0.12">40</text>
<line x1="100.00" y1="541.3" x2="100.00" y2="543.3" stroke="#bbb" stroke-width="0.6"/>
<text x="131.5" y="551.0" font-size="7.3" text-anchor="middle" font-weight="normal" fill="#262626" stroke="#262626" stroke-width="0.12">60</text>
<line x1="131.50" y1="541.3" x2="131.50" y2="543.3" stroke="#bbb" stroke-width="0.6"/>
<text x="163.0" y="551.0" font-size="7.3" text-anchor="middle" font-weight="normal" fill="#262626" stroke="#262626" stroke-width="0.12">80</text>
<line x1="163.00" y1="541.3" x2="163.00" y2="543.3" stroke="#bbb" stroke-width="0.6"/>
<line x1="7.5" y1="467.3" x2="7.5" y2="409.2" stroke="#111" stroke-width="1.0"/>
<polygon points="4.9,410.2 10.1,410.2 7.5,401.7" fill="#111"/>
<text x="9.3" y="539.2" font-size="7.1" text-anchor="start" font-weight="normal" fill="#262626" stroke="#262626" stroke-width="0.12" transform="rotate(-90 9.3 539.2)">Cumulative probability</text>
<text x="33.0" y="560.7" font-size="7" text-anchor="start" font-weight="normal" fill="#262626" stroke="#262626" stroke-width="0.12">Time (months)</text>
<line x1="81.5" y1="558.7" x2="469.5" y2="558.7" stroke="#222" stroke-width="1.4"/>
<polygon points="468.5,555.2 468.5,562.2 478.6,558.7" fill="#222"/>
<text x="36.2" y="522.7" font-size="5.3" text-anchor="start" font-weight="normal" fill="#3e3e3e" stroke="#3e3e3e" stroke-width="0.04">low risk (n = 18)</text>
<text x="36.2" y="530.8" font-size="5.3" text-anchor="start" font-weight="normal" fill="#3e3e3e" stroke="#3e3e3e" stroke-width="0.04">intermediate risk (n = 37)</text>
<text x="36.2" y="539.3" font-size="5.3" text-anchor="start" font-weight="normal" fill="#3e3e3e" stroke="#3e3e3e" stroke-width="0.04">high risk (n = 49)</text>
<text x="165.4" y="531.1" font-size="5.3" text-anchor="end" font-weight="bold" fill="#222" stroke="#222" stroke-width="0.12">log-rank</text>
<text x="167.0" y="538.1" font-size="5.3" text-anchor="end" font-weight="bold" fill="#222" stroke="#222" stroke-width="0.12">p = 0.232</text>
<text x="129.2" y="443.1" font-size="5.3" text-anchor="start" font-weight="normal" fill="#3e3e3e" stroke="#3e3e3e" stroke-width="0.04">low risk</text>
<text x="123.5" y="468.0" font-size="5.3" text-anchor="start" font-weight="normal" fill="#3e3e3e" stroke="#3e3e3e" stroke-width="0.04">intermediate risk</text>
<text x="125.1" y="486.4" font-size="5.3" text-anchor="start" font-weight="normal" fill="#3e3e3e" stroke="#3e3e3e" stroke-width="0.04">high risk</text>
<path d="M36.90,407.00 L76.20,407.00 L76.20,418.10 L81.90,418.10 L81.90,430.00 L106.00,430.00 L106.00,444.80 L149.60,444.80" fill="none" stroke="#6e6e6e" stroke-width="0.85"/>
<path d="M38.53,406.10 v1.8 M48.83,406.10 v1.8 M58.29,406.10 v1.8 M68.41,406.10 v1.8 M78.68,417.20 v1.8 M83.66,429.10 v1.8 M92.10,429.10 v1.8 M96.53,429.10 v1.8 M101.01,429.10 v1.8 M107.91,443.90 v1.8 M114.29,443.90 v1.8 M118.65,443.90 v1.8 M122.66,443.90 v1.8 M127.71,443.90 v1.8 M132.42,443.90 v1.8 M138.97,443.90 v1.8 M143.15,443.90 v1.8" stroke="#484848" stroke-width="0.9" fill="none"/>
<path d="M38.70,407.00 L40.20,407.00 L40.90,407.00 L40.90,409.75 L41.60,409.75 L41.60,412.50 L43.50,412.50 L43.50,414.40 L46.40,414.40 L46.40,415.40 L49.30,415.40 L49.30,418.30 L49.78,418.30 L49.78,421.17 L50.27,421.17 L50.27,424.03 L50.75,424.03 L50.75,426.90 L52.20,426.90 L52.20,430.80 L55.10,430.80 L55.10,433.70 L56.55,433.70 L56.55,436.10 L58.00,436.10 L58.00,438.50 L59.00,438.50 L59.00,441.30 L62.00,441.30 L62.00,442.30 L65.70,442.30 L66.60,442.30 L66.60,445.20 L69.45,445.20 L69.45,446.05 L72.30,446.05 L72.30,446.90 L83.80,446.90 L83.80,450.80 L89.60,450.80 L89.60,453.50 L100.60,453.50 L100.60,463.30 L117.80,463.30 L117.80,469.30 L152.90,469.30" fill="none" stroke="#6e6e6e" stroke-width="0.85"/>
<path d="M75.34,446.00 v1.8 M80.38,446.00 v1.8 M86.17,449.90 v1.8 M91.41,452.60 v1.8 M104.58,462.40 v1.8 M111.84,462.40 v1.8 M119.51,468.40 v1.8 M124.23,468.40 v1.8 M130.63,468.40 v1.8 M136.48,468.40 v1.8 M146.28,468.40 v1.8 M151.41,468.40 v1.8" stroke="#484848" stroke-width="0.9" fill="none"/>
<path d="M38.70,407.00 L40.20,407.00 L40.90,407.00 L40.90,409.75 L41.60,409.75 L41.60,412.50 L43.50,412.50 L43.50,414.40 L46.40,414.40 L46.40,415.40 L49.30,415.40 L49.30,418.30 L49.78,418.30 L49.78,421.17 L50.27,421.17 L50.27,424.03 L50.75,424.03 L50.75,426.90 L52.20,426.90 L52.20,430.80 L55.10,430.80 L55.10,433.70 L56.55,433.70 L56.55,436.10 L58.00,436.10 L58.00,438.50 L59.00,438.50 L59.00,441.30 L62.00,441.30 L62.00,442.30 L65.70,442.30 L66.60,442.30 L66.60,445.20 L69.45,445.20 L69.45,447.50 L72.30,447.50 L72.30,449.80 L80.00,449.80 L80.00,453.70 L85.80,453.70 L85.80,463.30 L103.00,463.30 L103.00,469.30 L121.90,469.30 L121.90,477.20 L144.70,477.20" fill="none" stroke="#6e6e6e" stroke-width="0.85"/>
<path d="M76.18,448.90 v1.8 M81.87,452.80 v1.8 M87.37,462.40 v1.8 M95.06,462.40 v1.8 M106.66,468.40 v1.8 M115.53,468.40 v1.8 M124.32,476.30 v1.8 M129.49,476.30 v1.8 M138.89,476.30 v1.8" stroke="#484848" stroke-width="0.9" fill="none"/>
<text x="192.2" y="392.1" font-size="7" text-anchor="start" font-weight="normal" fill="#262626" stroke="#262626" stroke-width="0.12">PFS: FLIPI Intermediate Risk Group</text>
<rect x="191.5" y="399.5" width="140.0" height="142.0" fill="#f3f3f3" stroke="#a8a8a8" stroke-width="1.1"/>
<text x="187.7" y="409.85" font-size="7.3" text-anchor="end" font-weight="normal" fill="#262626" stroke="#262626" stroke-width="0.12">1.0</text>
<line x1="189.5" y1="407.60" x2="191.5" y2="407.60" stroke="#bbb" stroke-width="0.6"/>
<text x="187.7" y="435.25" font-size="7.3" text-anchor="end" font-weight="normal" fill="#262626" stroke="#262626" stroke-width="0.12">0.8</text>
<line x1="189.5" y1="433.00" x2="191.5" y2="433.00" stroke="#bbb" stroke-width="0.6"/>
<text x="187.7" y="460.65" font-size="7.3" text-anchor="end" font-weight="normal" fill="#262626" stroke="#262626" stroke-width="0.12">0.6</text>
<line x1="189.5" y1="458.40" x2="191.5" y2="458.40" stroke="#bbb" stroke-width="0.6"/>
<text x="187.7" y="486.05" font-size="7.3" text-anchor="end" font-weight="normal" fill="#262626" stroke="#262626" stroke-width="0.12">0.4</text>
<line x1="189.5" y1="483.80" x2="191.5" y2="483.80" stroke="#bbb" stroke-width="0.6"/>
<text x="187.7" y="511.45" font-size="7.3" text-anchor="end" font-weight="normal" fill="#262626" stroke="#262626" stroke-width="0.12">0.2</text>
<line x1="189.5" y1="509.20" x2="191.5" y2="509.20" stroke="#bbb" stroke-width="0.6"/>
<text x="187.7" y="536.85" font-size="7.3" text-anchor="end" font-weight="normal" fill="#262626" stroke="#262626" stroke-width="0.12">0</text>
<line x1="189.5" y1="534.60" x2="191.5" y2="534.60" stroke="#bbb" stroke-width="0.6"/>
<text x="198.5" y="551.0" font-size="7.3" text-anchor="middle" font-weight="normal" fill="#262626" stroke="#262626" stroke-width="0.12">0</text>
<line x1="198.50" y1="541.5" x2="198.50" y2="543.5" stroke="#bbb" stroke-width="0.6"/>
<text x="230.0" y="551.0" font-size="7.3" text-anchor="middle" font-weight="normal" fill="#262626" stroke="#262626" stroke-width="0.12">20</text>
<line x1="230.00" y1="541.5" x2="230.00" y2="543.5" stroke="#bbb" stroke-width="0.6"/>
<text x="261.5" y="551.0" font-size="7.3" text-anchor="middle" font-weight="normal" fill="#262626" stroke="#262626" stroke-width="0.12">40</text>
<line x1="261.50" y1="541.5" x2="261.50" y2="543.5" stroke="#bbb" stroke-width="0.6"/>
<text x="293.0" y="551.0" font-size="7.3" text-anchor="middle" font-weight="normal" fill="#262626" stroke="#262626" stroke-width="0.12">60</text>
<line x1="293.00" y1="541.5" x2="293.00" y2="543.5" stroke="#bbb" stroke-width="0.6"/>
<text x="324.5" y="551.0" font-size="7.3" text-anchor="middle" font-weight="normal" fill="#262626" stroke="#262626" stroke-width="0.12">80</text>
<line x1="324.50" y1="541.5" x2="324.50" y2="543.5" stroke="#bbb" stroke-width="0.6"/>
<text x="193.8" y="531.1" font-size="5.3" text-anchor="start" font-weight="normal" fill="#3e3e3e" stroke="#3e3e3e" stroke-width="0.04">Bcl-2/IgH &lt; 1 (n = 29)</text>
<text x="193.8" y="540.1" font-size="5.3" text-anchor="start" font-weight="normal" fill="#3e3e3e" stroke="#3e3e3e" stroke-width="0.04">Bcl-2/IgH &gt; 1 (n = 8)</text>
<text x="327.3" y="532.9" font-size="5.3" text-anchor="end" font-weight="bold" fill="#222" stroke="#222" stroke-width="0.12">log-rank</text>
<text x="328.8" y="539.0" font-size="5.3" text-anchor="end" font-weight="bold" fill="#222" stroke="#222" stroke-width="0.12">p &lt; 0.001</text>
<text x="279.9" y="447.0" font-size="5.3" text-anchor="start" font-weight="normal" fill="#3e3e3e" stroke="#3e3e3e" stroke-width="0.04">Bcl-2/IgH &lt; 1</text>
<text x="250.0" y="531.1" font-size="5.3" text-anchor="start" font-weight="normal" fill="#3e3e3e" stroke="#3e3e3e" stroke-width="0.04">Bcl-2/IgH &gt; 1</text>
<path d="M199.60,406.60 L202.60,406.60 L202.60,411.20 L211.30,411.20 L211.30,415.60 L215.80,415.60 L215.80,420.10 L218.30,420.10 L218.30,424.20 L226.50,424.20 L226.50,430.00 L241.20,430.00 L241.20,435.40 L249.60,435.40 L249.60,441.20 L264.80,441.20 L264.80,449.80 L315.40,449.80" fill="none" stroke="#6e6e6e" stroke-width="0.85"/>
<path d="M206.05,410.30 v1.8 M213.36,414.70 v1.8 M222.26,423.30 v1.8 M230.02,429.10 v1.8 M239.74,429.10 v1.8 M243.27,434.50 v1.8 M251.99,440.30 v1.8 M256.19,440.30 v1.8 M260.39,440.30 v1.8 M266.95,448.90 v1.8 M275.80,448.90 v1.8 M286.49,448.90 v1.8 M293.62,448.90 v1.8 M304.18,448.90 v1.8" stroke="#484848" stroke-width="0.9" fill="none"/>
<path d="M199.60,406.60 L202.50,406.60 L202.50,422.50 L208.10,422.50 L208.10,438.50 L211.90,438.50 L211.90,470.00 L215.80,470.00 L215.80,486.40 L223.80,486.40 L223.80,502.30 L233.80,502.30 L233.80,518.20 L247.70,518.20 L247.70,533.80" fill="none" stroke="#6e6e6e" stroke-width="0.85"/>
<path d="M206.39,421.60 v1.8 M217.85,485.50 v1.8 M225.79,501.40 v1.8 M231.22,501.40 v1.8 M237.55,517.30 v1.8" stroke="#484848" stroke-width="0.9" fill="none"/>
<text x="350.0" y="392.1" font-size="7" text-anchor="start" font-weight="normal" fill="#262626" stroke="#262626" stroke-width="0.12">PFS: FLIPI High Risk Group</text>
<rect x="351.5" y="399.6" width="139.89999999999998" height="141.69999999999993" fill="#f3f3f3" stroke="#a8a8a8" stroke-width="1.1"/>
<text x="347.7" y="409.55" font-size="7.3" text-anchor="end" font-weight="normal" fill="#262626" stroke="#262626" stroke-width="0.12">1.0</text>
<line x1="349.5" y1="407.30" x2="351.5" y2="407.30" stroke="#bbb" stroke-width="0.6"/>
<text x="347.7" y="435.01" font-size="7.3" text-anchor="end" font-weight="normal" fill="#262626" stroke="#262626" stroke-width="0.12">0.8</text>
<line x1="349.5" y1="432.76" x2="351.5" y2="432.76" stroke="#bbb" stroke-width="0.6"/>
<text x="347.7" y="460.47" font-size="7.3" text-anchor="end" font-weight="normal" fill="#262626" stroke="#262626" stroke-width="0.12">0.6</text>
<line x1="349.5" y1="458.22" x2="351.5" y2="458.22" stroke="#bbb" stroke-width="0.6"/>
<text x="347.7" y="485.93" font-size="7.3" text-anchor="end" font-weight="normal" fill="#262626" stroke="#262626" stroke-width="0.12">0.4</text>
<line x1="349.5" y1="483.68" x2="351.5" y2="483.68" stroke="#bbb" stroke-width="0.6"/>
<text x="347.7" y="511.39" font-size="7.3" text-anchor="end" font-weight="normal" fill="#262626" stroke="#262626" stroke-width="0.12">0.2</text>
<line x1="349.5" y1="509.14" x2="351.5" y2="509.14" stroke="#bbb" stroke-width="0.6"/>
<text x="347.7" y="536.85" font-size="7.3" text-anchor="end" font-weight="normal" fill="#262626" stroke="#262626" stroke-width="0.12">0</text>
<line x1="349.5" y1="534.60" x2="351.5" y2="534.60" stroke="#bbb" stroke-width="0.6"/>
<text x="359.0" y="551.0" font-size="7.3" text-anchor="middle" font-weight="normal" fill="#262626" stroke="#262626" stroke-width="0.12">0</text>
<line x1="359.00" y1="541.3" x2="359.00" y2="543.3" stroke="#bbb" stroke-width="0.6"/>
<text x="394.9" y="551.0" font-size="7.3" text-anchor="middle" font-weight="normal" fill="#262626" stroke="#262626" stroke-width="0.12">20</text>
<line x1="394.90" y1="541.3" x2="394.90" y2="543.3" stroke="#bbb" stroke-width="0.6"/>
<text x="430.8" y="551.0" font-size="7.3" text-anchor="middle" font-weight="normal" fill="#262626" stroke="#262626" stroke-width="0.12">40</text>
<line x1="430.80" y1="541.3" x2="430.80" y2="543.3" stroke="#bbb" stroke-width="0.6"/>
<text x="466.7" y="551.0" font-size="7.3" text-anchor="middle" font-weight="normal" fill="#262626" stroke="#262626" stroke-width="0.12">60</text>
<line x1="466.70" y1="541.3" x2="466.70" y2="543.3" stroke="#bbb" stroke-width="0.6"/>
<text x="357.7" y="530.9" font-size="5.3" text-anchor="start" font-weight="normal" fill="#3e3e3e" stroke="#3e3e3e" stroke-width="0.04">Bcl-2/IgH &lt; 1 (n = 30)</text>
<text x="357.7" y="539.6" font-size="5.3" text-anchor="start" font-weight="normal" fill="#3e3e3e" stroke="#3e3e3e" stroke-width="0.04">Bcl-2/IgH &gt; 1 (n = 19)</text>
<text x="488.6" y="533.1" font-size="5.3" text-anchor="end" font-weight="bold" fill="#222" stroke="#222" stroke-width="0.12">log-rank</text>
<text x="490.2" y="538.8" font-size="5.3" text-anchor="end" font-weight="bold" fill="#222" stroke="#222" stroke-width="0.12">p = 0.046</text>
<text x="457.2" y="453.2" font-size="5.3" text-anchor="start" font-weight="normal" fill="#3e3e3e" stroke="#3e3e3e" stroke-width="0.04">Bcl-2/IgH &lt; 1</text>
<text x="453.3" y="503.6" font-size="5.3" text-anchor="start" font-weight="normal" fill="#3e3e3e" stroke="#3e3e3e" stroke-width="0.04">Bcl-2/IgH &gt; 1</text>
<path d="M359.20,406.50 L362.30,406.50 L362.30,412.00 L372.00,412.00 L372.00,419.60 L374.60,419.60 L374.60,427.30 L376.20,427.30 L376.20,436.90 L419.70,436.90 L419.70,442.30 L455.00,442.30 L455.00,455.50 L482.60,455.50" fill="none" stroke="#6e6e6e" stroke-width="0.85"/>
<path d="M365.00,411.10 v1.8 M379.70,436.00 v1.8 M384.29,436.00 v1.8 M392.92,436.00 v1.8 M403.29,436.00 v1.8 M412.76,436.00 v1.8 M422.40,441.40 v1.8 M427.64,441.40 v1.8 M437.17,441.40 v1.8 M443.50,441.40 v1.8 M453.10,441.40 v1.8 M457.49,454.60 v1.8 M464.30,454.60 v1.8 M474.93,454.60 v1.8" stroke="#484848" stroke-width="0.9" fill="none"/>
<path d="M359.20,406.50 L362.30,406.50 L362.30,414.20 L369.50,414.20 L369.50,419.60 L373.20,419.60 L373.20,427.30 L379.20,427.30 L379.20,434.20 L382.30,434.20 L382.30,448.50 L392.20,448.50 L392.20,456.40 L398.50,456.40 L398.50,463.30 L412.30,463.30 L412.30,471.30 L431.30,471.30 L431.30,492.70 L450.90,492.70 L450.90,506.00 L475.60,506.00" fill="none" stroke="#6e6e6e" stroke-width="0.85"/>
<path d="M364.23,413.30 v1.8 M375.08,426.40 v1.8 M385.82,447.60 v1.8 M390.84,447.60 v1.8 M396.15,455.50 v1.8 M400.88,462.40 v1.8 M408.72,462.40 v1.8 M413.84,470.40 v1.8 M424.63,470.40 v1.8 M434.12,491.80 v1.8 M444.65,491.80 v1.8 M454.58,505.10 v1.8 M464.36,505.10 v1.8 M469.84,505.10 v1.8" stroke="#484848" stroke-width="0.9" fill="none"/>
</svg></body></html>
